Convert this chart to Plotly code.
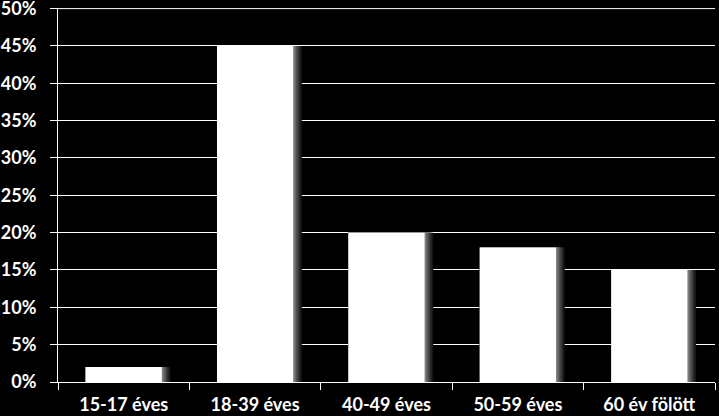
import plotly.graph_objects as go

categories = ["15-17 éves", "18-39 éves", "40-49 éves", "50-59 éves", "60 év fölött"]
values = [0.02, 0.45, 0.20, 0.18, 0.15]
tick_vals = [0, 0.05, 0.10, 0.15, 0.20, 0.25, 0.30, 0.35, 0.40, 0.45, 0.50]
tick_text = ["0%", "5%", "10%", "15%", "20%", "25%", "30%", "35%", "40%", "45%", "50%"]

bar_w = 0.58
fig = go.Figure()

# soft shadow on right side of bars
shadow_steps = [(0.066, "#141414"), (0.055, "#262626"), (0.044, "#3a3a3a"),
                (0.033, "#505050"), (0.022, "#686868"), (0.011, "#808080")]
for dk, col in shadow_steps:
    fig.add_trace(go.Bar(x=categories, y=values, width=bar_w + dk, offset=-bar_w / 2,
                         marker=dict(color=col, line=dict(width=0)),
                         hoverinfo="skip", showlegend=False))

fig.add_trace(go.Bar(x=categories, y=values, width=bar_w, offset=-bar_w / 2,
                     marker=dict(color="#ffffff", line=dict(width=0)), showlegend=False))

tfont = dict(family="Lato, 'Open Sans', sans-serif", size=18, color="white", weight="bold")
fig.update_layout(
    width=719, height=416,
    paper_bgcolor="black", plot_bgcolor="black",
    margin=dict(l=58, r=4, t=8, b=34),
    barmode="overlay",
    font=dict(family="Lato, sans-serif", size=18, color="white"),
    xaxis=dict(showgrid=False, showline=True, linecolor="white", linewidth=1,
               ticks="outside", tickson="boundaries", ticklen=7, tickcolor="white",
               tickfont=tfont, ticklabelstandoff=6, automargin=False,
               fixedrange=True),
    yaxis=dict(range=[0, 0.5008], tickvals=tick_vals, ticktext=tick_text,
               showgrid=True, gridcolor="white", gridwidth=1,
               showline=True, linecolor="white", linewidth=1,
               ticks="outside", ticklen=7, tickcolor="white",
               zeroline=False, tickfont=tfont, ticklabelstandoff=10,
               ticklabeloverflow="allow",
               automargin=False, fixedrange=True),
)
fig.add_shape(type="line", xref="paper", yref="y", x0=0, x1=1,
              y0=tick_vals[-1], y1=tick_vals[-1],
              line=dict(color="white", width=1), layer="below")

fig.write_html("out.html", config={"displayModeBar": False},
               post_script="document.body.style.margin='0';document.body.style.background='black';")
